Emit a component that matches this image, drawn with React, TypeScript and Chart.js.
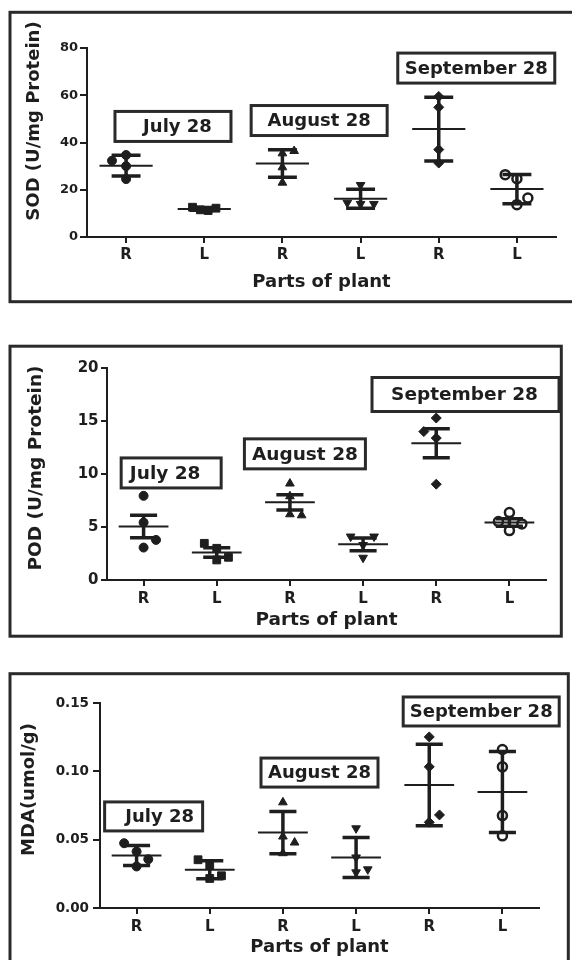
import React, { useEffect, useRef } from "react";
import { Chart, registerables } from "chart.js";
Chart.register(...registerables);

// ---------- data ----------
const PARTS = ["R", "L", "R", "L", "R", "L"];
const DATES = ["July 28", "August 28", "September 28"];
const X_TITLE = "Parts of plant";

// SOD (U/mg Protein) — mean ± SD
const SOD_POINTS = [
  [32.3, 34.7, 30.0, 24.5],
  [12.6, 11.5, 11.2, 12.2],
  [35.4, 36.4, 29.5, 23.0],
  [22.0, 14.5, 14.0, 14.0],
  [59.5, 54.9, 37.0, 31.3],
  [26.4, 24.7, 16.5, 13.7],
];
const SOD_JITTER = [
  [-0.18, 0, 0, 0],
  [-0.15, -0.05, 0.05, 0.15],
  [0, 0.15, 0, 0],
  [0, -0.17, 0, 0.17],
  [0, 0, 0, 0],
  [-0.15, 0, 0.14, 0],
];
const SOD_MEAN = [30.2, 11.9, 31.1, 16.2, 45.7, 20.3];
const SOD_ERR = [4.4, 0.6, 5.8, 4.0, 13.5, 6.2];
const SOD_TICKS = [0, 20, 40, 60, 80];
const SOD_NOTE_X = [0.6, 2.47, 4.48];
const SOD_NOTE_Y = [46.8, 49.3, 71.5];

// POD (U/mg Protein) — mean ± SEM
const POD_POINTS = [
  [7.94, 5.42, 3.78, 3.06],
  [3.46, 2.99, 2.14, 1.89],
  [9.1, 7.9, 6.2, 6.1],
  [4.1, 4.1, 3.3, 2.1],
  [15.28, 14.0, 13.39, 9.04],
  [6.36, 5.51, 5.29, 4.66],
];
const POD_JITTER = [
  [0, 0, 0.17, 0],
  [-0.17, 0, 0.16, 0],
  [0, 0, 0, 0.16],
  [-0.17, 0.15, 0, 0],
  [0, -0.17, 0, 0],
  [0, -0.15, 0.17, 0],
];
const POD_MEAN = [5.05, 2.6, 7.33, 3.37, 12.91, 5.42];
const POD_ERR = [1.07, 0.45, 0.72, 0.6, 1.37, 0.35];
const POD_TICKS = [0, 5, 10, 15, 20];
const POD_NOTE_X = [0.377, 2.205, 4.4];
const POD_NOTE_Y = [10.1, 11.9, 17.5];

// MDA (umol/g) — mean ± SD
const MDA_POINTS = [
  [0.0474, 0.0413, 0.0357, 0.0304],
  [0.0353, 0.0311, 0.0236, 0.0216],
  [0.0773, 0.0523, 0.0479, 0.0401],
  [0.0583, 0.037, 0.0283, 0.0261],
  [0.1252, 0.1033, 0.0681, 0.0627],
  [0.116, 0.1033, 0.0676, 0.0528],
];
const MDA_JITTER = [
  [-0.17, 0, 0.16, 0],
  [-0.16, 0, 0.16, 0],
  [0, 0, 0.16, 0],
  [0, 0, 0.16, 0],
  [0, 0, 0.14, 0],
  [0, 0, 0, 0],
];
const MDA_MEAN = [0.0384, 0.028, 0.0552, 0.037, 0.09, 0.0849];
const MDA_ERR = [0.0073, 0.0066, 0.0155, 0.0146, 0.0299, 0.0296];
const MDA_TICKS = [0, 0.05, 0.1, 0.15];
const MDA_NOTE_X = [0.233, 2.5, 4.71];
const MDA_NOTE_Y = [0.067, 0.0991, 0.1438];

// ---------- styles ----------
const INK = "#1e1e1e";
const FRAME = "#2a2a2a";
const FONT = "'DejaVu Sans', 'Liberation Sans', Arial, sans-serif";
const MEAN_HALF = 0.34;
const CAP_HALF = 0.185;
const Y_W = 50;
const X_H = 40;
const W = 572;

const MARKERS = [
  { style: "circle", rot: 0, r: 4.5, open: false },
  { style: "rect", rot: 0, r: 5.5, open: false },
  { style: "triangle", rot: 0, r: 5, open: false },
  { style: "triangle", rot: 180, r: 5, open: false },
  { style: "rectRot", rot: 0, r: 5, open: false },
  { style: "circle", rot: 0, r: 4.5, open: true },
];

type Cfg = {
  points: number[][];
  jitter: number[][];
  mean: number[];
  err: number[];
  ticks: number[];
  dec: number;
  yTitle: string;
  noteX: number[];
  noteY: number[];
  lay: any;
};

const PANELS: Cfg[] = [
  {
    points: SOD_POINTS, jitter: SOD_JITTER, mean: SOD_MEAN, err: SOD_ERR, ticks: SOD_TICKS, dec: 0,
    yTitle: "SOD (U/mg Protein)", noteX: SOD_NOTE_X, noteY: SOD_NOTE_Y,
    lay: {
      top: 0, h: 320, area: { l: 87, r: 556, t: 48, b: 237 },
      frame: { x: 10, y: 12.3, w: 600, h: 289.4 },
      yT: { x: 34, y: 121 }, xT: { y: 282 },
      fy: 13, fx: 15, ft: 18, fn: 18,
      boxW: [116, 136, 157], boxH: [30, 30, 30], dx: [4.5, 0, 0],
      tickLenY: 7, padY: 2, tickLenX: 6, padX: 3,
    },
  },
  {
    points: POD_POINTS, jitter: POD_JITTER, mean: POD_MEAN, err: POD_ERR, ticks: POD_TICKS, dec: 0,
    yTitle: "POD (U/mg Protein)", noteX: POD_NOTE_X, noteY: POD_NOTE_Y,
    lay: {
      top: 320, h: 340, area: { l: 107, r: 546, t: 48, b: 260 },
      frame: { x: 10, y: 26.2, w: 551.3, h: 290 },
      yT: { x: 36.5, y: 148 }, xT: { y: 300 },
      fy: 15, fx: 15, ft: 18.5, fn: 18.5,
      boxW: [100, 121, 187], boxH: [30, 30, 34], dx: [-6, 0, -1],
      tickLenY: 6, padY: 2.5, tickLenX: 6, padX: 4,
    },
  },
  {
    points: MDA_POINTS, jitter: MDA_JITTER, mean: MDA_MEAN, err: MDA_ERR, ticks: MDA_TICKS, dec: 2,
    yTitle: "MDA(umol/g)", noteX: MDA_NOTE_X, noteY: MDA_NOTE_Y,
    lay: {
      top: 660, h: 300, area: { l: 100, r: 539, t: 43, b: 248 },
      frame: { x: 10, y: 13.7, w: 558.3, h: 400 },
      yT: { x: 29, y: 129.5 }, xT: { y: 287 },
      fy: 13.5, fx: 15, ft: 18, fn: 18,
      boxW: [98, 117, 156], boxH: [29, 29, 29], dx: [6, 0, 0],
      tickLenY: 7, padY: 4, tickLenX: 6, padX: 4,
    },
  },
];

function Panel({ cfg }: { cfg: Cfg }) {
  const ref = useRef<HTMLCanvasElement>(null);
  useEffect(() => {
    const L = cfg.lay;
    const meanData: any[] = [];
    const errData: any[] = [];
    cfg.mean.forEach((m, i) => {
      const e = cfg.err[i];
      meanData.push({ x: i - MEAN_HALF, y: m }, { x: i + MEAN_HALF, y: m }, { x: i, y: null });
      errData.push(
        { x: i - CAP_HALF, y: m + e }, { x: i + CAP_HALF, y: m + e }, { x: i, y: null },
        { x: i, y: m + e }, { x: i, y: m - e }, { x: i, y: null },
        { x: i - CAP_HALF, y: m - e }, { x: i + CAP_HALF, y: m - e }, { x: i, y: null }
      );
    });
    const datasets: any[] = [
      { type: "line", data: meanData, borderColor: INK, borderWidth: 2, pointRadius: 0, spanGaps: false, showLine: true, fill: false, clip: false },
      { type: "line", data: errData, borderColor: INK, borderWidth: 3.5, pointRadius: 0, spanGaps: false, showLine: true, fill: false, borderCapStyle: "butt", clip: false },
    ];
    cfg.points.forEach((vals, i) => {
      const st = MARKERS[i];
      datasets.push({
        type: "scatter",
        data: vals.map((v, j) => ({ x: i + cfg.jitter[i][j], y: v })),
        pointStyle: st.style,
        pointRotation: st.rot,
        pointRadius: st.r,
        backgroundColor: st.open ? "#ffffff" : INK,
        borderColor: INK,
        borderWidth: st.open ? 2.5 : 1,
        clip: false,
      });
    });

    const decor = {
      id: "decor",
      afterDraw(chart: any) {
        const ctx = chart.ctx;
        const xs = chart.scales.x;
        const ys = chart.scales.y;
        ctx.save();
        ctx.lineWidth = 3;
        ctx.strokeStyle = FRAME;
        ctx.strokeRect(L.frame.x, L.frame.y, L.frame.w, L.frame.h);
        DATES.forEach((t, k) => {
          const cx = xs.getPixelForValue(cfg.noteX[k]);
          const cy = ys.getPixelForValue(cfg.noteY[k]);
          const w = L.boxW[k];
          const h = L.boxH[k];
          ctx.fillStyle = "#ffffff";
          ctx.fillRect(cx - w / 2, cy - h / 2, w, h);
          ctx.lineWidth = 3;
          ctx.strokeStyle = FRAME;
          ctx.strokeRect(cx - w / 2, cy - h / 2, w, h);
          ctx.fillStyle = INK;
          ctx.font = `bold ${L.fn}px ${FONT}`;
          ctx.textAlign = "center";
          ctx.textBaseline = "middle";
          ctx.fillText(t, cx + L.dx[k], cy + 1);
        });
        ctx.fillStyle = INK;
        ctx.font = `bold ${L.ft}px ${FONT}`;
        ctx.textAlign = "center";
        ctx.textBaseline = "middle";
        const ca = chart.chartArea;
        ctx.fillText(X_TITLE, (ca.left + ca.right) / 2, L.xT.y);
        ctx.translate(L.yT.x, L.yT.y);
        ctx.rotate(-Math.PI / 2);
        ctx.fillText(cfg.yTitle, 0, 0);
        ctx.restore();
      },
    };

    const chart = new Chart(ref.current as HTMLCanvasElement, {
      type: "scatter",
      data: { datasets },
      plugins: [decor],
      options: {
        animation: false,
        responsive: false,
        maintainAspectRatio: false,
        events: [],
        layout: {
          padding: {
            left: L.area.l - Y_W,
            right: W - L.area.r,
            top: L.area.t,
            bottom: L.h - L.area.b - X_H,
          },
        },
        plugins: { legend: { display: false }, tooltip: { enabled: false }, title: { display: false } },
        scales: {
          x: {
            type: "linear",
            min: -0.5,
            max: 5.5,
            afterBuildTicks: (s: any) => {
              s.ticks = PARTS.map((_, i) => ({ value: i }));
            },
            afterFit: (s: any) => {
              s.height = X_H;
            },
            ticks: {
              callback: (_v: any, i: number) => PARTS[i],
              font: { family: FONT, weight: "bold", size: L.fx },
              color: INK,
              padding: L.padX,
              maxRotation: 0,
              autoSkip: false,
            },
            grid: { display: true, drawOnChartArea: false, drawTicks: true, tickLength: L.tickLenX, color: INK, lineWidth: 2 },
            border: { display: true, color: INK, width: 2 },
          },
          y: {
            type: "linear",
            min: 0,
            max: cfg.ticks[cfg.ticks.length - 1],
            afterBuildTicks: (s: any) => {
              s.ticks = cfg.ticks.map((v) => ({ value: v }));
            },
            afterFit: (s: any) => {
              s.width = Y_W;
            },
            ticks: {
              callback: (v: any) => Number(v).toFixed(cfg.dec),
              font: { family: FONT, weight: "bold", size: L.fy },
              color: INK,
              padding: L.padY,
            },
            grid: { display: true, drawOnChartArea: false, drawTicks: true, tickLength: L.tickLenY, color: INK, lineWidth: 2 },
            border: { display: true, color: INK, width: 2 },
          },
        },
      } as any,
    } as any);
    return () => chart.destroy();
  }, [cfg]);
  return (
    <canvas
      ref={ref}
      width={W}
      height={cfg.lay.h}
      style={{ position: "absolute", left: 0, top: cfg.lay.top, width: W, height: cfg.lay.h, display: "block" }}
    />
  );
}

export default function App() {
  return (
    <div style={{ position: "absolute", left: 0, top: 0, width: W, height: 960, background: "#fff", overflow: "hidden" }}>
      {PANELS.map((p, i) => (
        <Panel key={i} cfg={p} />
      ))}
    </div>
  );
}
